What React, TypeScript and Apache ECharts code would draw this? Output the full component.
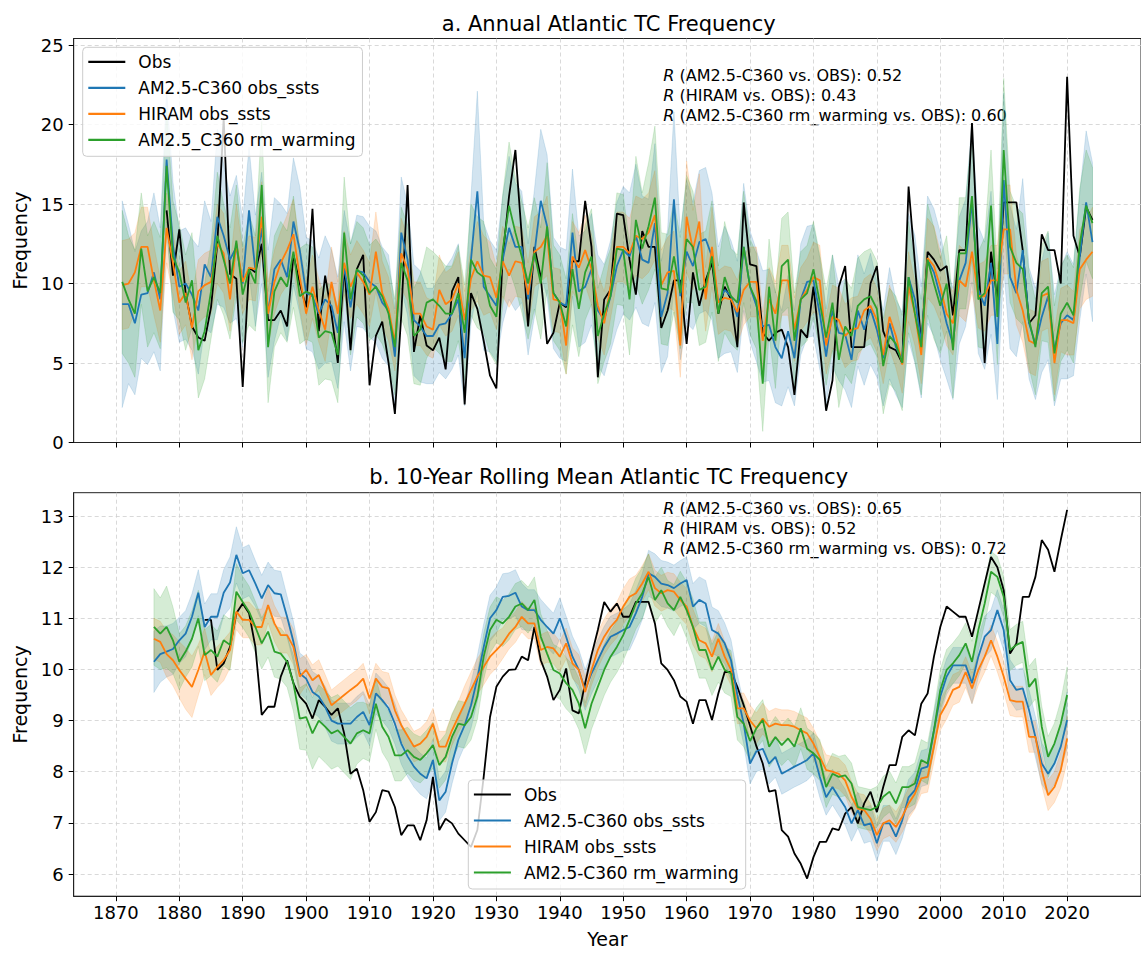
import React, { useEffect, useRef } from "react";
import * as echarts from "echarts";

const FONT = "DejaVu Sans";
const C_OBS = "#000000";
const C_AM = "#1f77b4";
const C_HI = "#ff7f0e";
const C_RM = "#2ca02c";

const ANNUAL_START = 1871;
const OBS_ANNUAL_START = 1878;
const ROLL_START = 1876;
const OBS_ROLL_START = 1884;

const X_TICKS = [1870, 1880, 1890, 1900, 1910, 1920, 1930, 1940, 1950, 1960, 1970, 1980, 1990, 2000, 2010, 2020];
const Y_TICKS_A = [0, 5, 10, 15, 20, 25];
const Y_TICKS_B = [6, 7, 8, 9, 10, 11, 12, 13];

const NAMES_A = ["Obs", "AM2.5-C360 obs_ssts", "HIRAM obs_ssts", "AM2.5_C360 rm_warming"];
const NAMES_B = ["Obs", "AM2.5-C360 obs_ssts", "HIRAM obs_ssts", "AM2.5-C360 rm_warming"];
const R_LABELS = ["AM2.5-C360", "HIRAM", "AM2.5-C360 rm_warming"];
const R_ANNUAL = ["0.52", "0.43", "0.60"];
const R_ROLL = ["0.65", "0.52", "0.72"];

// ---------- panel a: annual counts ----------
const OBS_ANNUAL = [
  14.6, 10.5, 13.4,
  9.4, 7.3, 6.6, 6.4, 8.5, 12.5, 20.4, 10.6, 10.3, 3.5,
  11.0, 10.7, 12.5, 7.7, 7.7, 8.3, 7.3, 11.8, 10.0, 8.5,
  14.7, 7.0, 10.5, 8.1, 5.0, 11.1, 5.8, 10.9, 11.8, 3.6,
  6.7, 7.6, 5.0, 1.8, 8.0, 16.2, 5.7, 8.0, 6.1, 5.8,
  6.6, 4.6, 9.5, 10.4, 2.4, 9.4, 8.4, 6.4, 4.2, 3.4,
  11.7, 15.5, 18.4, 13.0, 7.3, 12.3, 10.4, 6.2, 6.9, 8.8,
  8.5, 11.4, 11.4, 15.2, 12.3, 4.1, 9.0, 9.6, 14.4, 14.3,
  11.5, 9.3, 13.3, 12.3, 12.3, 7.2, 8.3, 10.2, 10.2, 6.2,
  10.7, 8.6, 10.2, 11.3, 8.1, 9.8, 9.0, 6.0, 15.1, 11.2,
  11.1, 6.9, 6.4, 6.9, 7.1, 6.0, 3.0, 7.1, 6.6, 9.8,
  6.0, 2.0, 3.9, 9.8, 11.1, 6.0, 6.0, 6.0, 10.0, 11.1,
  7.0, 6.0, 5.8, 5.0, 16.1, 11.3, 6.0, 12.0, 11.5, 10.8,
  11.1, 8.0, 12.1, 12.1, 20.1, 11.3, 5.0, 12.0, 9.0, 15.1,
  15.1, 15.1, 12.1, 7.5, 8.0, 13.1, 12.1, 12.1, 10.0, 23.0,
  13.0, 11.7, 14.8, 14.0,
];

const AM_ANNUAL = [
  8.7, 8.7, 7.5, 9.3, 9.4, 10.7, 9.0, 17.8, 12.4, 9.8,
  10.0, 9.3, 8.3, 11.2, 10.4, 14.2, 13.0, 11.5, 12.3, 10.0,
  14.6, 10.8, 13.5, 8.1, 10.9, 11.5, 10.4, 13.9, 12.1, 9.4,
  9.2, 8.1, 9.0, 8.6, 6.9, 11.1, 8.5, 10.8, 10.7, 10.1,
  9.8, 8.8, 8.3, 5.4, 13.2, 11.5, 7.7, 7.3, 6.7, 6.7,
  7.4, 7.5, 8.1, 9.0, 5.3, 11.5, 15.8, 9.8, 9.2, 8.6,
  11.5, 13.5, 12.3, 12.3, 9.0, 11.9, 15.2, 13.6, 9.4, 8.8,
  8.6, 13.2, 9.5, 9.8, 10.9, 8.3, 7.7, 9.2, 11.1, 12.1,
  11.7, 13.0, 11.5, 11.3, 13.8, 7.9, 9.4, 15.3, 9.2, 12.0,
  11.1, 12.6, 12.8, 11.7, 8.8, 9.6, 9.2, 7.9, 12.3, 9.8,
  8.6, 7.3, 7.4, 6.0, 5.3, 7.0, 5.3, 9.0, 10.1, 10.2,
  8.1, 5.4, 8.3, 6.9, 6.8, 5.2, 8.3, 7.1, 8.4, 7.1,
  5.3, 7.5, 6.0, 5.2, 10.4, 9.0, 6.3, 11.5, 10.7, 9.2,
  7.5, 6.2, 10.2, 11.3, 15.1, 9.6, 8.6, 11.3, 6.2, 16.5,
  10.4, 9.4, 12.1, 7.5, 6.2, 7.9, 9.2, 5.8, 7.5, 8.0,
  7.7, 11.7, 15.1, 12.6,
];

const HI_ANNUAL = [
  9.9, 10.0, 10.7, 12.3, 12.3, 10.2, 8.3, 13.5, 11.3, 8.8,
  9.4, 7.2, 9.5, 9.9, 10.1, 12.5, 11.9, 9.0, 12.5, 10.1,
  11.0, 10.9, 14.2, 8.1, 10.1, 11.3, 12.1, 13.1, 10.4, 8.1,
  9.8, 8.3, 7.1, 10.1, 8.1, 11.3, 9.8, 10.7, 10.1, 9.3,
  12.0, 9.4, 8.4, 6.3, 11.9, 10.9, 8.1, 8.1, 7.3, 7.1,
  9.6, 8.7, 9.0, 10.0, 7.7, 10.3, 11.4, 10.5, 10.4, 9.1,
  11.4, 10.5, 11.4, 11.3, 9.3, 12.0, 12.3, 13.0, 9.0, 8.9,
  6.1, 11.7, 11.0, 12.1, 10.9, 8.6, 7.5, 9.8, 12.3, 12.3,
  11.9, 13.0, 12.8, 13.2, 14.3, 9.9, 10.7, 10.8, 6.1, 14.2,
  12.1, 13.9, 9.0, 12.3, 8.8, 9.1, 9.0, 8.2, 9.6, 10.1,
  10.1, 6.4, 9.0, 8.1, 10.2, 10.2, 7.1, 9.0, 9.6, 10.4,
  10.2, 6.1, 7.9, 7.7, 6.7, 7.1, 7.2, 8.3, 8.6, 7.7,
  5.5, 7.9, 6.7, 4.9, 9.8, 8.1, 5.5, 11.6, 11.1, 9.8,
  8.1, 7.5, 10.2, 9.8, 12.0, 9.2, 9.2, 10.2, 10.2, 13.4,
  13.4, 9.6, 8.3, 6.4, 6.2, 9.2, 9.4, 5.0, 7.7, 7.7,
  7.5, 10.9, 11.5, 12.0,
];

const RM_ANNUAL = [
  10.1, 9.0, 8.1, 12.2, 9.5, 10.4, 9.4, 17.4, 11.7, 10.7,
  8.8, 10.2, 5.8, 7.0, 9.5, 13.0, 11.5, 10.0, 12.7, 9.3,
  10.9, 10.0, 16.2, 6.0, 9.5, 10.4, 9.8, 12.0, 9.2, 9.5,
  9.3, 6.6, 7.0, 6.9, 5.5, 13.2, 9.0, 10.9, 10.5, 9.4,
  9.8, 9.2, 8.1, 6.0, 11.3, 10.2, 6.7, 7.1, 8.8, 9.0,
  8.6, 8.1, 8.1, 9.4, 6.9, 11.5, 10.7, 10.4, 8.6, 7.9,
  12.1, 14.9, 13.2, 11.7, 10.0, 11.9, 10.0, 13.6, 9.4, 8.8,
  7.3, 10.9, 8.4, 10.7, 11.7, 6.7, 8.1, 9.2, 12.2, 12.1,
  9.0, 14.0, 12.2, 13.6, 15.4, 9.7, 9.6, 11.7, 9.4, 12.8,
  12.3, 9.6, 9.8, 11.7, 8.1, 10.4, 9.2, 8.8, 12.3, 9.8,
  8.9, 3.7, 9.8, 6.4, 11.1, 11.5, 6.4, 9.0, 9.4, 10.9,
  8.8, 6.6, 8.8, 5.2, 7.3, 6.7, 8.6, 9.0, 9.2, 8.4,
  4.8, 6.7, 6.2, 5.0, 10.4, 8.1, 6.0, 11.5, 10.0, 8.6,
  10.0, 5.8, 11.9, 11.9, 15.5, 9.0, 9.4, 14.9, 7.9, 18.4,
  12.3, 11.3, 10.9, 7.7, 6.0, 9.4, 9.8, 5.6, 8.1, 8.8,
  8.0, 12.5, 14.9, 13.8,
];

// half-width of the ensemble spread band (annual)
const AM_SPREAD_ANNUAL = [
  6.5, 5.0, 4.5, 4.0, 4.5, 5.0, 4.5, 4.5, 4.0, 3.5,
  3.5, 3.5, 4.0, 4.0, 3.5, 5.5, 4.5, 4.0, 4.5, 4.0,
  4.0, 3.5, 3.5, 4.0, 4.5, 3.5, 4.0, 4.0, 4.0, 3.5,
  3.5, 3.5, 4.0, 3.5, 3.5, 3.5, 4.0, 3.5, 3.5, 3.5,
  3.5, 3.5, 3.5, 3.0, 3.5, 3.5, 3.5, 3.5, 3.0, 3.0,
  3.0, 3.5, 3.5, 3.5, 3.0, 4.0, 6.3, 4.0, 3.5, 3.5,
  4.0, 4.5, 4.0, 3.5, 3.5, 4.0, 4.5, 4.5, 3.5, 3.5,
  3.5, 4.0, 3.5, 3.5, 3.5, 3.5, 3.5, 3.5, 4.0, 4.0,
  4.0, 4.5, 4.0, 4.0, 5.0, 3.5, 4.0, 5.5, 4.0, 4.5,
  4.0, 4.5, 4.5, 4.0, 3.5, 4.0, 3.5, 3.5, 4.0, 3.5,
  3.5, 3.5, 3.5, 3.5, 3.0, 3.5, 3.0, 3.5, 3.5, 3.5,
  3.5, 3.0, 3.5, 3.0, 3.5, 3.0, 3.5, 3.5, 3.5, 3.0,
  3.0, 3.5, 3.0, 3.0, 4.0, 4.0, 3.5, 4.0, 4.0, 4.0,
  3.5, 3.5, 4.0, 4.0, 5.0, 4.0, 4.0, 4.5, 3.5, 5.5,
  4.5, 4.0, 4.5, 3.5, 3.5, 3.5, 4.0, 3.5, 3.5, 4.0,
  3.5, 4.0, 4.5, 5.0,
];
const HI_SPREAD_ANNUAL = [
  2.8, 2.8, 2.5, 2.5, 2.5, 2.2, 2.0, 2.2, 2.0, 2.0,
  2.0, 2.0, 2.0, 2.0, 2.0, 2.5, 2.5, 2.0, 2.5, 2.0,
  2.0, 2.0, 2.2, 2.0, 2.0, 2.0, 2.2, 2.2, 2.0, 2.0,
  2.0, 2.0, 2.0, 2.2, 2.0, 2.0, 2.0, 2.0, 2.0, 2.0,
  2.5, 2.0, 2.0, 1.8, 2.2, 2.0, 2.0, 2.0, 1.8, 1.8,
  2.2, 2.0, 2.0, 2.0, 1.8, 2.0, 2.5, 2.5, 2.2, 2.0,
  2.2, 2.0, 2.2, 2.2, 2.0, 2.2, 2.2, 2.5, 2.0, 2.0,
  1.8, 2.2, 2.2, 2.2, 2.2, 2.0, 2.0, 2.0, 2.2, 2.2,
  2.2, 2.5, 2.5, 2.5, 2.8, 2.2, 2.2, 2.5, 2.0, 3.5,
  2.5, 3.0, 2.0, 2.5, 2.0, 2.0, 2.0, 2.0, 2.2, 2.2,
  2.2, 1.8, 2.0, 2.0, 2.2, 2.2, 2.0, 2.0, 2.0, 2.2,
  2.2, 1.8, 2.0, 2.0, 2.0, 2.0, 2.0, 2.0, 2.0, 2.0,
  1.8, 2.0, 2.0, 1.8, 2.2, 2.0, 1.8, 2.5, 2.5, 2.2,
  2.0, 2.0, 2.2, 2.2, 2.5, 2.0, 2.2, 2.2, 2.2, 2.8,
  2.8, 2.2, 2.0, 2.0, 2.0, 2.2, 2.2, 2.0, 2.0, 2.2,
  2.0, 2.5, 2.5, 2.8,
];
const RM_SPREAD_ANNUAL = [
  4.5, 4.0, 4.0, 3.5, 3.5, 3.5, 3.5, 3.5, 3.5, 3.0,
  3.0, 3.0, 3.0, 3.0, 3.0, 4.0, 3.5, 3.5, 3.5, 3.0,
  3.5, 3.0, 4.0, 3.5, 3.5, 3.5, 3.5, 3.5, 3.0, 3.0,
  3.0, 3.0, 3.0, 3.0, 3.0, 3.5, 3.5, 3.0, 3.0, 3.0,
  3.0, 3.0, 3.0, 3.0, 3.5, 3.5, 3.0, 3.5, 3.5, 3.0,
  3.0, 3.0, 3.0, 3.0, 3.0, 3.5, 3.5, 3.5, 3.0, 3.0,
  3.5, 4.0, 3.5, 3.5, 3.5, 3.5, 3.5, 4.0, 3.0, 3.0,
  3.0, 3.5, 3.0, 3.0, 3.0, 3.0, 3.0, 3.0, 3.5, 3.5,
  3.5, 4.0, 3.5, 4.0, 4.5, 3.5, 3.5, 3.5, 3.5, 4.0,
  3.5, 3.5, 3.5, 3.5, 3.0, 3.5, 3.0, 3.0, 3.5, 3.0,
  3.0, 3.0, 3.0, 3.0, 3.0, 3.0, 3.0, 3.0, 3.0, 3.0,
  3.0, 3.0, 3.0, 3.0, 3.0, 3.0, 3.0, 3.0, 3.0, 3.0,
  3.0, 3.0, 3.0, 3.0, 3.5, 3.0, 3.0, 3.5, 3.5, 3.0,
  3.0, 3.0, 3.5, 3.5, 4.0, 3.0, 3.5, 3.5, 3.0, 4.5,
  3.5, 3.5, 3.5, 3.0, 3.0, 3.0, 3.5, 3.0, 3.0, 3.0,
  3.0, 3.5, 3.5, 3.5,
];

// ---------- panel b: 10-year rolling mean ----------
const OBS_ROLL = [
  10.97, 10.97, 9.99, 10.12, 10.44, 11.1, 11.29,
  11.1, 10.44, 9.11, 9.27, 9.27, 9.86, 10.18, 9.73, 9.47, 9.33,
  9.04, 9.4, 9.27, 9.11, 9.24, 8.75, 7.96, 8.06, 7.64, 7.02,
  7.21, 7.64, 7.61, 7.31, 6.76, 6.95, 6.95, 6.66, 7.05, 7.9,
  6.86, 7.08, 6.99, 6.79, 6.66, 6.53, 6.86, 7.9, 9.07, 9.66,
  9.86, 9.99, 10.0, 10.25, 10.18, 10.83, 10.18, 9.86, 9.4, 9.6,
  10.02, 9.2, 9.14, 9.73, 10.28, 10.77, 11.32, 11.13, 11.29, 11.03,
  11.03, 11.32, 11.32, 11.32, 10.9, 10.12, 9.99, 9.79, 9.47, 9.37,
  8.94, 9.4, 9.4, 9.01, 9.53, 9.95, 9.95, 9.66, 9.3, 8.9,
  8.5, 8.16, 7.61, 7.64, 6.86, 6.73, 6.4, 6.2, 5.91, 6.33,
  6.63, 6.63, 6.89, 6.86, 7.18, 7.31, 6.99, 7.38, 7.61, 7.21,
  7.7, 8.13, 8.13, 8.68, 8.81, 8.71, 9.33, 9.53, 10.25, 10.83,
  11.23, 11.13, 11.03, 11.03, 10.64, 11.16, 11.68, 12.2, 12.0, 11.55,
  10.31, 10.51, 11.42, 11.42, 11.81, 12.53, 12.34, 11.91, 12.53, 13.12,
];

const AM_ROLL = [
  10.15, 10.3, 10.35, 10.4, 10.57,
  10.7, 11.03, 11.5, 10.83, 11.03, 11.03, 11.5, 11.7, 12.24, 11.88,
  11.94, 11.68, 11.39, 11.65, 11.49, 11.47, 11.03, 10.54, 9.92, 9.82,
  9.56, 9.47, 9.27, 9.0, 8.94, 8.94, 8.94, 9.07, 9.17, 8.91,
  9.53, 9.4, 9.24, 8.94, 8.55, 8.3, 8.1, 7.96, 7.87, 8.23,
  7.44, 7.61, 8.16, 8.62, 8.91, 9.3, 9.82, 10.44, 11.0, 11.16,
  11.42, 11.44, 11.5, 11.23, 11.16, 11.16, 10.97, 10.83, 10.7, 11.0,
  10.64, 10.25, 9.99, 9.6, 9.92, 10.18, 10.44, 10.64, 10.7, 10.77,
  10.83, 11.1, 11.42, 11.88, 11.81, 11.68, 11.65, 11.59, 11.68, 11.75,
  11.23, 11.36, 11.29, 10.77, 10.7, 10.51, 10.18, 9.5, 8.94, 8.16,
  8.4, 8.45, 8.16, 8.29, 7.96, 8.03, 8.1, 8.16, 8.23, 8.36,
  7.9, 7.5, 7.7, 7.5, 7.31, 6.99, 7.25, 6.95, 6.99, 6.6,
  6.99, 6.99, 6.73, 7.05, 7.5, 7.64, 8.06, 8.1, 8.81, 9.47,
  9.86, 10.08, 10.08, 10.08, 9.73, 10.25, 10.64, 10.77, 11.16, 10.77,
  9.79, 9.6, 9.63, 9.2, 8.68, 8.16, 7.96, 8.16, 8.49, 9.01,
];

const HI_ROLL = [
  10.6, 10.54, 10.3, 10.18, 9.99,
  9.82, 9.66, 9.99, 10.35, 9.89, 10.05, 10.18, 10.38, 11.13, 10.97,
  10.97, 10.83, 10.83, 11.26, 10.9, 10.67, 10.67, 10.44, 9.86, 9.99,
  9.79, 9.89, 9.6, 9.3, 9.4, 9.5, 9.6, 9.69, 9.82, 9.43,
  9.82, 9.66, 9.63, 9.2, 8.91, 8.7, 8.49, 8.55, 8.68, 8.94,
  8.49, 8.49, 8.81, 9.07, 9.33, 9.6, 9.86, 10.05, 10.25, 10.38,
  10.51, 10.7, 10.83, 11.03, 10.9, 10.9, 10.38, 10.44, 10.41, 10.25,
  10.51, 10.12, 9.99, 9.56, 9.99, 10.38, 10.64, 10.83, 10.97, 11.23,
  11.42, 11.49, 11.68, 11.91, 11.59, 11.49, 11.55, 11.52, 11.36, 11.23,
  10.83, 10.57, 10.51, 10.25, 10.6, 10.25, 9.99, 9.24, 9.24, 9.0,
  8.85, 9.04, 8.88, 8.94, 8.91, 8.91, 8.88, 8.81, 8.75, 8.55,
  8.29, 8.03, 8.0, 7.96, 7.83, 7.51, 7.28, 7.25, 7.08, 6.76,
  6.99, 7.05, 6.92, 7.12, 7.38, 7.57, 7.87, 7.9, 8.49, 9.11,
  9.33, 9.6, 9.66, 9.95, 9.63, 9.99, 10.25, 10.57, 10.25, 9.86,
  9.4, 9.37, 9.37, 8.68, 8.68, 8.03, 7.54, 7.7, 8.03, 8.65,
];

const RM_ROLL = [
  10.83, 10.7, 10.83, 10.57, 10.15,
  10.35, 10.6, 11.0, 10.28, 10.38, 10.25, 10.57, 10.48, 11.52, 11.32,
  11.13, 10.83, 10.51, 10.74, 10.35, 10.31, 10.15, 9.73, 9.04, 9.07,
  8.75, 9.0, 8.88, 8.75, 8.81, 8.68, 8.55, 8.75, 8.81, 8.75,
  9.33, 8.88, 8.68, 8.32, 8.32, 8.42, 8.29, 8.23, 8.36, 8.52,
  8.13, 8.29, 8.68, 8.94, 8.91, 9.07, 9.47, 10.25, 10.77, 10.97,
  10.9, 11.03, 11.23, 11.29, 11.16, 11.36, 10.64, 10.31, 9.99, 9.92,
  9.73, 9.6, 9.33, 8.85, 9.33, 9.66, 9.99, 10.25, 10.44, 10.67,
  10.97, 11.29, 11.49, 11.81, 11.36, 11.55, 11.29, 11.16, 11.42, 11.16,
  10.83, 10.38, 10.38, 9.99, 10.25, 9.99, 9.92, 9.07, 8.94, 8.6,
  8.85, 9.01, 8.49, 8.68, 8.52, 8.65, 8.49, 8.85, 8.45, 8.36,
  8.23, 7.7, 7.96, 7.9, 7.93, 7.77, 7.31, 7.28, 7.25, 7.31,
  7.51, 7.61, 7.38, 7.7, 7.7, 7.77, 8.23, 8.16, 8.81, 9.6,
  9.99, 10.12, 10.28, 10.51, 10.15, 10.77, 11.29, 11.91, 11.81, 11.42,
  10.38, 10.48, 10.54, 9.66, 9.82, 8.88, 8.29, 8.55, 8.94, 9.5,
];

const AM_SPREAD_ROLL = [
  0.6, 0.55, 0.5, 0.5, 0.45,
  0.45, 0.45, 0.45, 0.45, 0.45, 0.45, 0.45, 0.5, 0.55, 0.5,
  0.5, 0.45, 0.45, 0.45, 0.45, 0.45, 0.4, 0.4, 0.4, 0.4,
  0.4, 0.4, 0.4, 0.4, 0.4, 0.4, 0.4, 0.4, 0.4, 0.4,
  0.4, 0.4, 0.4, 0.4, 0.4, 0.4, 0.4, 0.4, 0.4, 0.4,
  0.4, 0.4, 0.4, 0.4, 0.4, 0.45, 0.45, 0.45, 0.45, 0.45,
  0.45, 0.45, 0.45, 0.45, 0.4, 0.4, 0.4, 0.4, 0.4, 0.4,
  0.4, 0.4, 0.4, 0.4, 0.4, 0.4, 0.4, 0.4, 0.4, 0.4,
  0.45, 0.45, 0.45, 0.45, 0.45, 0.45, 0.45, 0.45, 0.45, 0.45,
  0.45, 0.45, 0.45, 0.45, 0.45, 0.4, 0.4, 0.4, 0.4, 0.4,
  0.4, 0.4, 0.4, 0.4, 0.4, 0.4, 0.4, 0.4, 0.4, 0.4,
  0.4, 0.35, 0.35, 0.35, 0.35, 0.35, 0.35, 0.35, 0.35, 0.35,
  0.35, 0.35, 0.35, 0.35, 0.35, 0.35, 0.35, 0.35, 0.35, 0.35,
  0.35, 0.35, 0.35, 0.35, 0.4, 0.4, 0.4, 0.4, 0.4, 0.4,
  0.4, 0.4, 0.4, 0.4, 0.4, 0.4, 0.4, 0.4, 0.45, 0.55,
];
const HI_SPREAD_ROLL = [
  0.4, 0.4, 0.45, 0.5, 0.55,
  0.6, 0.6, 0.5, 0.45, 0.4, 0.4, 0.4, 0.35, 0.35, 0.35,
  0.35, 0.35, 0.35, 0.35, 0.35, 0.35, 0.35, 0.35, 0.35, 0.3,
  0.3, 0.3, 0.3, 0.3, 0.3, 0.3, 0.3, 0.3, 0.3, 0.3,
  0.3, 0.3, 0.3, 0.3, 0.3, 0.3, 0.3, 0.3, 0.3, 0.3,
  0.3, 0.3, 0.3, 0.3, 0.35, 0.35, 0.35, 0.35, 0.35, 0.35,
  0.3, 0.3, 0.3, 0.3, 0.3, 0.3, 0.3, 0.3, 0.3, 0.3,
  0.3, 0.3, 0.3, 0.3, 0.3, 0.35, 0.35, 0.35, 0.35, 0.35,
  0.35, 0.35, 0.35, 0.35, 0.35, 0.35, 0.35, 0.35, 0.35, 0.35,
  0.35, 0.3, 0.3, 0.3, 0.3, 0.3, 0.3, 0.3, 0.3, 0.3,
  0.3, 0.3, 0.3, 0.3, 0.3, 0.3, 0.3, 0.3, 0.3, 0.3,
  0.3, 0.3, 0.3, 0.3, 0.3, 0.3, 0.3, 0.3, 0.3, 0.3,
  0.3, 0.3, 0.3, 0.3, 0.3, 0.3, 0.3, 0.3, 0.3, 0.3,
  0.3, 0.3, 0.3, 0.3, 0.3, 0.3, 0.3, 0.3, 0.3, 0.3,
  0.3, 0.3, 0.3, 0.3, 0.3, 0.3, 0.3, 0.3, 0.35, 0.45,
];
const RM_SPREAD_ROLL = [
  0.75, 0.7, 0.8, 0.65, 0.55,
  0.5, 0.55, 0.55, 0.5, 0.5, 0.5, 0.5, 0.5, 0.55, 0.5,
  0.5, 0.5, 0.5, 0.5, 0.5, 0.5, 0.5, 0.55, 0.6, 0.65,
  0.7, 0.7, 0.7, 0.7, 0.7, 0.7, 0.7, 0.6, 0.55, 0.55,
  0.5, 0.5, 0.5, 0.5, 0.5, 0.45, 0.45, 0.45, 0.45, 0.45,
  0.45, 0.45, 0.45, 0.45, 0.45, 0.45, 0.45, 0.45, 0.45, 0.45,
  0.45, 0.45, 0.45, 0.45, 0.45, 0.45, 0.45, 0.45, 0.5, 0.5,
  0.5, 0.5, 0.5, 0.5, 0.5, 0.5, 0.5, 0.5, 0.5, 0.5,
  0.5, 0.5, 0.5, 0.45, 0.45, 0.45, 0.45, 0.5, 0.5, 0.55,
  0.55, 0.55, 0.55, 0.5, 0.5, 0.45, 0.45, 0.45, 0.45, 0.4,
  0.4, 0.4, 0.4, 0.4, 0.4, 0.4, 0.4, 0.4, 0.4, 0.4,
  0.4, 0.4, 0.4, 0.4, 0.4, 0.4, 0.4, 0.4, 0.4, 0.4,
  0.4, 0.4, 0.4, 0.4, 0.4, 0.4, 0.4, 0.4, 0.4, 0.4,
  0.4, 0.4, 0.4, 0.4, 0.4, 0.4, 0.4, 0.4, 0.4, 0.4,
  0.4, 0.4, 0.4, 0.4, 0.4, 0.4, 0.4, 0.4, 0.45, 0.55,
];

// ---------- helpers ----------
const pairs = (start: number, vals: number[]) => vals.map((v, i) => [start + i, v]);

function bandSeries(start: number, mean: number[], spread: number[], color: string, axis: number) {
  const hi = mean.map((m, i) => [start + i, m + spread[i]]);
  const lo = mean.map((m, i) => [start + i, m - spread[i]]);
  return {
    type: "custom",
    xAxisIndex: axis,
    yAxisIndex: axis,
    clip: true,
    silent: true,
    z: 1,
    data: [[start, mean[0]]],
    encode: { x: 0, y: 1 },
    renderItem: (_params: any, api: any) => {
      const pts: number[][] = [];
      for (let i = 0; i < hi.length; i++) pts.push(api.coord(hi[i]));
      for (let i = lo.length - 1; i >= 0; i--) pts.push(api.coord(lo[i]));
      return {
        type: "polygon",
        shape: { points: pts },
        style: { fill: color, stroke: color, lineWidth: 0.8, opacity: 0.2 },
      };
    },
  };
}

function lineSeries(name: string, start: number, vals: number[], color: string, axis: number, z: number) {
  return {
    type: "line",
    name,
    xAxisIndex: axis,
    yAxisIndex: axis,
    data: pairs(start, vals),
    showSymbol: false,
    symbol: "none",
    silent: true,
    z,
    lineStyle: { color, width: 1.8 },
    itemStyle: { color },
  };
}

const GRID_LEFT = 73.7;
const GRID_WIDTH = 1070;
const X_MIN = 1863.35;
const X_MAX = 2031.65;

const tickFont = { fontFamily: FONT, fontSize: 18, color: "#000" };
const nameFont = { fontFamily: FONT, fontSize: 19, color: "#000" };
const gridLine = { show: true, lineStyle: { color: "#cfcfcf", width: 0.8, type: [4, 3] } };
const spine = { show: true, onZero: false, lineStyle: { color: "#222", width: 1 } };

function xAxis(gi: number, labels: boolean) {
  return {
    type: "value",
    gridIndex: gi,
    min: X_MIN,
    max: X_MAX,
    axisLine: spine,
    axisTick: { show: true, customValues: X_TICKS, length: 5, lineStyle: { color: "#000", width: 1 } },
    axisLabel: { show: labels, customValues: X_TICKS, margin: 7, formatter: (v: number) => String(Math.round(v)), ...tickFont },
    splitLine: gridLine,
    name: labels ? "Year" : "",
    nameLocation: "middle",
    nameGap: 33,
    nameTextStyle: nameFont,
  };
}

function yAxis(gi: number, min: number, max: number, ticks: number[]) {
  return {
    type: "value",
    gridIndex: gi,
    min,
    max,
    axisLine: spine,
    axisTick: { show: true, customValues: ticks, length: 5, lineStyle: { color: "#000", width: 1 } },
    axisLabel: { customValues: ticks, margin: 10, formatter: (v: number) => String(v), ...tickFont },
    splitLine: gridLine,
    name: "Frequency",
    nameLocation: "middle",
    nameRotate: 90,
    nameGap: 37,
    nameTextStyle: nameFont,
  };
}

function legend(left: number, top: number, names: string[]) {
  return {
    left,
    top,
    orient: "vertical",
    selectedMode: false,
    data: names.map((n) => ({ name: n, icon: "rect" })),
    itemWidth: 37,
    itemHeight: 2.2,
    itemGap: 7,
    padding: [5, 7, 7, 5.6],
    backgroundColor: "rgba(255,255,255,0.8)",
    borderColor: "#cccccc",
    borderWidth: 1,
    borderRadius: 4,
    textStyle: { fontFamily: FONT, fontSize: 17, color: "#000", lineHeight: 19, padding: [0, 0, 0, 8] },
  };
}

function annotations(y0: number, values: string[]) {
  const out: any[] = [];
  values.forEach((v, i) => {
    const y = y0 + i * 20;
    out.push({
      type: "text",
      x: 663.3,
      y,
      silent: true,
      style: { text: "R", fontFamily: FONT, fontSize: 16, fontStyle: "italic", fill: "#000", textVerticalAlign: "middle", verticalAlign: "middle" },
    });
    out.push({
      type: "text",
      x: 674.4,
      y,
      silent: true,
      style: { text: ` (${R_LABELS[i]} vs. OBS): ${v}`, fontFamily: FONT, fontSize: 16, fill: "#000", textVerticalAlign: "middle", verticalAlign: "middle" },
    });
  });
  return out;
}

function title(text: string, y: number) {
  return {
    type: "text",
    x: GRID_LEFT + GRID_WIDTH / 2,
    y,
    silent: true,
    style: { text, fontFamily: FONT, fontSize: 21, fill: "#000", textAlign: "center", align: "center", textVerticalAlign: "middle", verticalAlign: "middle" },
  };
}

export default function App() {
  const ref = useRef<HTMLDivElement>(null);

  useEffect(() => {
    if (!ref.current) return;
    const chart = echarts.init(ref.current, null, { renderer: "svg" });
    const option: any = {
      animation: false,
      backgroundColor: "#ffffff",
      grid: [
        { left: GRID_LEFT, top: 38.5, width: GRID_WIDTH, height: 404, show: true, borderColor: "#222", borderWidth: 1, backgroundColor: "transparent" },
        { left: GRID_LEFT, top: 492.7, width: GRID_WIDTH, height: 403.5, show: true, borderColor: "#222", borderWidth: 1, backgroundColor: "transparent" },
      ],
      xAxis: [xAxis(0, false), xAxis(1, true)],
      yAxis: [yAxis(0, 0, 25.41, Y_TICKS_A), yAxis(1, 5.566, 13.456, Y_TICKS_B)],
      legend: [legend(82.7, 47.3, NAMES_A), legend(468.3, 780, NAMES_B)],
      series: [
        bandSeries(ANNUAL_START, AM_ANNUAL, AM_SPREAD_ANNUAL, C_AM, 0),
        bandSeries(ANNUAL_START, HI_ANNUAL, HI_SPREAD_ANNUAL, C_HI, 0),
        bandSeries(ANNUAL_START, RM_ANNUAL, RM_SPREAD_ANNUAL, C_RM, 0),
        lineSeries(NAMES_A[0], OBS_ANNUAL_START, OBS_ANNUAL, C_OBS, 0, 3),
        lineSeries(NAMES_A[1], ANNUAL_START, AM_ANNUAL, C_AM, 0, 4),
        lineSeries(NAMES_A[2], ANNUAL_START, HI_ANNUAL, C_HI, 0, 5),
        lineSeries(NAMES_A[3], ANNUAL_START, RM_ANNUAL, C_RM, 0, 6),
        bandSeries(ROLL_START, AM_ROLL, AM_SPREAD_ROLL, C_AM, 1),
        bandSeries(ROLL_START, HI_ROLL, HI_SPREAD_ROLL, C_HI, 1),
        bandSeries(ROLL_START, RM_ROLL, RM_SPREAD_ROLL, C_RM, 1),
        lineSeries(NAMES_B[0], OBS_ROLL_START, OBS_ROLL, C_OBS, 1, 3),
        lineSeries(NAMES_B[1], ROLL_START, AM_ROLL, C_AM, 1, 4),
        lineSeries(NAMES_B[2], ROLL_START, HI_ROLL, C_HI, 1, 5),
        lineSeries(NAMES_B[3], ROLL_START, RM_ROLL, C_RM, 1, 6),
      ],
      graphic: [
        title("a. Annual Atlantic TC Frequency", 24),
        title("b. 10-Year Rolling Mean Atlantic TC Frequency", 477.4),
        ...annotations(75, R_ANNUAL),
        ...annotations(508.3, R_ROLL),
      ],
    };
    chart.setOption(option);
    return () => chart.dispose();
  }, []);

  return (
    <div
      ref={ref}
      style={{ position: "fixed", left: 0, top: 0, width: 1141, height: 953, background: "#fff" }}
    />
  );
}
